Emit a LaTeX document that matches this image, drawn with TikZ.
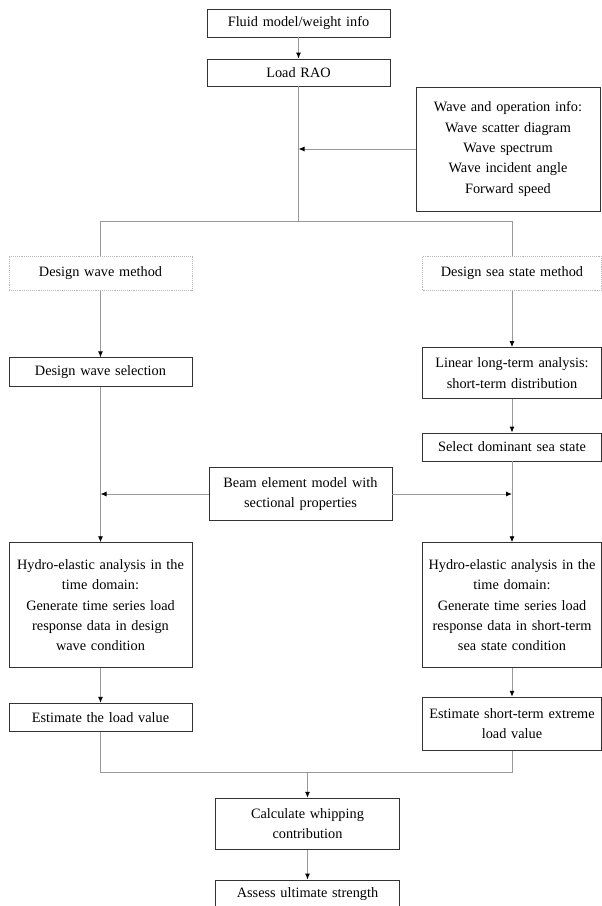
\documentclass[tikz,border=0pt]{standalone}
\usepackage{fontspec}
\setmainfont{Liberation Serif}[WordSpace=1.6]
\usetikzlibrary{arrows.meta}
\definecolor{bx}{rgb}{0.2, 0.2, 0.2}
\definecolor{lg}{rgb}{0.6, 0.6, 0.6}
\definecolor{dt}{rgb}{0.72, 0.72, 0.72}
\newcommand{\boxfont}{\fontsize{14.3pt}{20.3pt}\selectfont}
\tikzset{%
  blk/.style={draw=bx, line width=0.9pt, fill=white, align=center, inner sep=2pt, font=\boxfont},%
  dtd/.style={blk, draw=dt, densely dotted, line width=1pt},%
  ln/.style={draw=lg, line width=0.9pt},%
  arr/.style={ln, -{Latex[length=6pt,width=5pt,color=black]}}%
}
\begin{document}
\begin{tikzpicture}[x=1pt,y=-1pt]%
  \useasboundingbox (0,0) rectangle (602,906);
  \clip (0,0) rectangle (602,906);
  % top of the chart
  \node [blk, text width=179pt, minimum height=28pt] (fluid) at (298.5,23) {Fluid model/weight info};
  \node [blk, text width=179pt, minimum height=27pt] (rao) at (298.5,72.5) {Load RAO};
  \node [blk, text width=180pt, minimum height=124pt] (wvinfo) at (508,149) {%
    Wave and operation info:\\ Wave scatter diagram\\ Wave spectrum\\ Wave incident angle\\ Forward speed};
  \coordinate (split) at (298.5,221);
  % left column: design wave
  \node [dtd, text width=179pt, minimum height=34pt] (dwm) at (100.5,273) {Design wave method};
  \node [blk, text width=179pt, minimum height=28.5pt] (dws) at (100.5,372) {Design wave selection};
  \node [blk, text width=179pt, minimum height=125pt] (hydL) at (100.5,605.2) {%
    Hydro-elastic analysis in the\\ time domain:\\ Generate time series load\\ response data in design\\ wave condition};
  \node [blk, text width=179pt, minimum height=28.5pt] (estL) at (100.5,717.5) {Estimate the load value};
  % right column: design sea state
  \node [dtd, text width=175pt, minimum height=34.5pt] (dssm) at (512,273.5) {Design sea state method};
  \node [blk, text width=175pt, minimum height=51pt] (ltlt) at (512,373) {%
    Linear long-term analysis:\\ short-term distribution};
  \node [blk, text width=175pt, minimum height=28pt] (sds) at (512,447) {Select dominant sea state};
  \node [blk, text width=175pt, minimum height=125pt] (hydR) at (512,605.2) {%
    Hydro-elastic analysis in the\\ time domain:\\ Generate time series load\\ response data in short-term\\ sea state condition};
  \node [blk, text width=175pt, minimum height=53pt] (estR) at (512,723.7) {%
    Estimate short-term extreme\\ load value};
  % middle
  \node [blk, text width=179pt, minimum height=53pt] (beam) at (300.5,494) {%
    Beam element model with\\ sectional properties};
  \coordinate (merge) at (307.5,772.7);
  \node [blk, text width=179.5pt, minimum height=51pt] (calc) at (307.5,823.7) {%
    Calculate whipping\\ contribution};
  \node [blk, text width=179.5pt, minimum height=28pt] (assess) at (307.5,894) {Assess ultimate strength};
  % connectors
  \draw [arr] (fluid) -- (rao);
  \draw [ln] (rao) -- (split);
  \draw [arr] (wvinfo) -- (wvinfo -| split);
  \draw [ln] (split -| dwm) -- (split -| dssm);
  \draw [ln] (split -| dwm) -- (dwm);
  \draw [ln] (split -| dssm) -- (dssm);
  \draw [arr] (dwm) -- (dws);
  \draw [arr] (dssm) -- (ltlt);
  \draw [arr] (ltlt) -- (sds);
  \draw [arr] (dws) -- (hydL);
  \draw [arr] (sds) -- (hydR);
  \draw [arr] (beam) -- (beam -| dws);
  \draw [arr] (beam) -- (beam -| sds);
  \draw [arr] (hydL) -- (estL);
  \draw [arr] (hydR) -- (estR);
  \draw [ln] (estL) -- (estL |- merge) -- (estR |- merge) -- (estR);
  \draw [arr] (merge) -- (calc);
  \draw [arr] (calc) -- (assess);
\end{tikzpicture}
\end{document}
